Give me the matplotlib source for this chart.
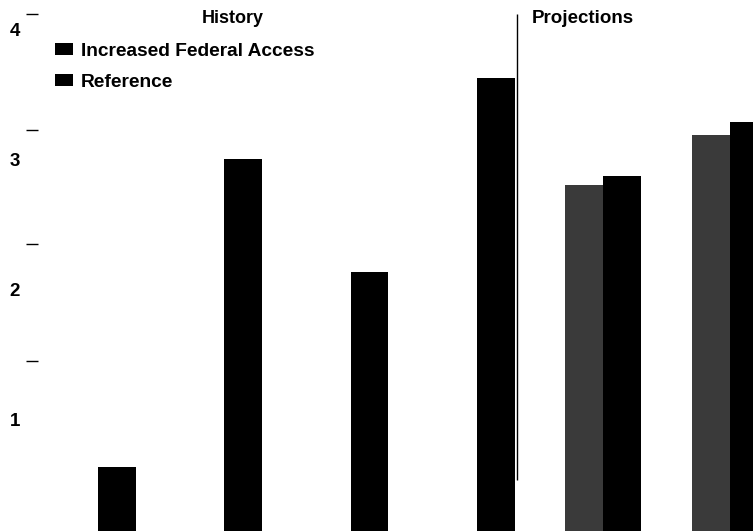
import matplotlib
matplotlib.use("Agg")
import matplotlib.pyplot as plt
from matplotlib.patches import Patch

# Historical values (single series) and projection pairs
history_values = [0.64, 3.01, 2.14, 3.63]
proj_access = [2.81, 3.19]       # Increased Federal Access
proj_reference = [2.88, 3.29]    # Reference

series_labels = ["Increased Federal Access", "Reference"]
ytick_values = [1, 2, 3, 4]
ytick_labels = ["1", "2", "3", "4"]

BLACK = "#000000"
GREY = "#3a3a3a"

plt.rcParams.update({
    "font.family": ["Liberation Sans", "DejaVu Sans"],
    "font.weight": "bold",
})

fig = plt.figure(figsize=(7.53, 5.31), dpi=100)
ax = fig.add_axes([38 / 753, 0, 1 - 38 / 753, 1])

width = 0.30
hist_x = list(range(len(history_values)))
ref_x = [len(history_values) + i for i in range(len(proj_reference))]
acc_x = [x - width for x in ref_x]

ax.bar(hist_x, history_values, width=width, color=BLACK, linewidth=0)
ax.bar(acc_x, proj_access, width=width, color=GREY, linewidth=0)
ax.bar(ref_x, proj_reference, width=width, color=BLACK, linewidth=0)

# divider between history and projections
ax.vlines(3.17, 0.54, 4.12, color="black", linewidth=1.0)

ax.text(0.92, 4.09, "History", ha="center", va="center", fontsize=13, fontweight="bold")
ax.text(3.69, 4.09, "Projections", ha="center", va="center", fontsize=13.5, fontweight="bold")

ax.set_xlim(-0.625, 5.036)
ax.set_ylim(0.146, 4.23)

ax.set_yticks(ytick_values)
ax.set_yticklabels(ytick_labels, fontsize=13.5, fontweight="bold")
ax.tick_params(axis="y", which="major", length=0, pad=13)
ax.set_yticks([1.45, 2.35, 3.23, 4.12], minor=True)
ax.tick_params(axis="y", which="minor", length=9, width=1.0, direction="out")
ax.set_xticks([])
for s in ax.spines.values():
    s.set_visible(False)

handles = [Patch(facecolor=BLACK, edgecolor="none"), Patch(facecolor=BLACK, edgecolor="none")]
ax.legend(handles, series_labels, loc="upper left", bbox_to_anchor=(55 / 753, 1 - 43 / 531),
          bbox_transform=fig.transFigure, frameon=False,
          handlelength=0.95, handleheight=0.55, handletextpad=0.4, labelspacing=0.72,
          borderaxespad=0, borderpad=0, prop={"weight": "bold", "size": 13.75})

fig.savefig("out.png", dpi=100, facecolor="white")
